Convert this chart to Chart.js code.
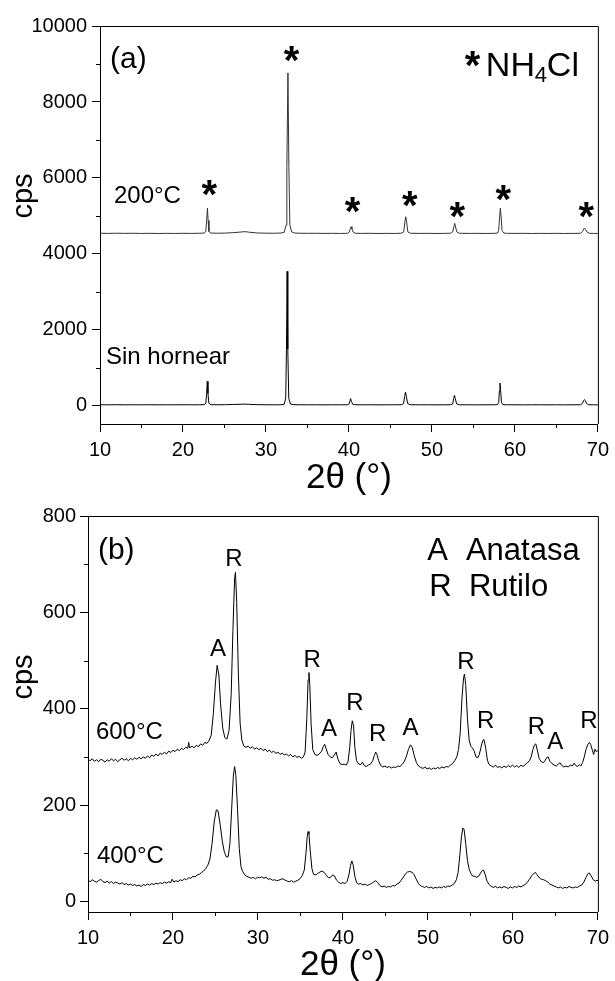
<!DOCTYPE html>
<html>
<head>
  <title>DRX NH4Cl y TiO2</title>
  <script src="https://cdn.jsdelivr.net/npm/chart.js@4.4.0/dist/chart.umd.min.js"></script>
  <style>
    body {
      margin: 0;
      padding: 0;
      background: #fff;
    }

    .panel {
      position: absolute;
      left: 0;
      width: 615px;
    }

    #panelA { top: 0; height: 500px; }
    #panelB { top: 500px; height: 481px; }
  </style>
</head>
<body>
  <div class="panel" id="panelA"><canvas id="grafikA" width="615" height="500"></canvas></div>
  <div class="panel" id="panelB"><canvas id="grafikB" width="615" height="481"></canvas></div>

  <script>
    // Difractogramas (a): NH4Cl sin hornear y a 200°C  -> [2θ, cps]
    const sinHornear = [
      [10,32],[11,30],[12,33],[13,29],[14,31],[15,30],[16,32],[17,29],[18,31],[19,30],[20,32],[21,30],[22,31],
      [22.55,33],[22.75,70],[22.85,330],[22.93,648],[23.01,330],[23.12,70],[23.35,34],[24,31],[25,33],[26,38],
      [27,45],[27.5,48],[28,42],[29,34],[30,31],[31,30],[31.8,32],[32.2,45],[32.38,200],[32.47,1500],[32.55,3543],
      [32.63,1500],[32.75,200],[32.95,50],[33.3,35],[34,31],[35,30],[36,31],[37,29],[38,31],[39,30],[39.8,31],
      [40.0,45],[40.12,130],[40.2,194],[40.3,120],[40.45,45],[40.7,32],[41.5,30],[42.5,31],[43.5,29],[44.5,30],
      [45.5,31],[46.3,32],[46.58,60],[46.72,250],[46.82,367],[46.92,250],[47.08,60],[47.4,32],[48.5,30],[49.5,31],
      [50.5,29],[51.5,30],[52.2,31],[52.5,55],[52.63,200],[52.72,281],[52.82,190],[52.98,55],[53.3,31],[54.5,30],
      [55.5,29],[56.5,30],[57.5,31],[57.9,35],[58.05,90],[58.13,400],[58.2,604],[58.28,400],[58.38,90],[58.55,36],
      [59,31],[60,30],[61,29],[62,30],[63,31],[64,29],[65,30],[66,29],[67,30],[67.9,31],[68.15,70],[68.3,150],
      [68.38,168],[68.48,140],[68.65,60],[68.9,32],[69.5,30],[70,29]
    ];

    const horneado200 = [
      [10,4546],[11,4541],[12,4547],[13,4542],[14,4545],[15,4540],[16,4544],[17,4539],[18,4543],[19,4540],[20,4544],
      [21,4541],[22,4545],[22.55,4550],[22.75,4590],[22.85,4880],[22.95,5207],[23.03,4880],[23.13,4590],[23.35,4552],
      [24,4546],[25,4549],[26,4560],[27,4578],[27.5,4588],[28,4572],[29,4552],[30,4547],[31,4545],[31.8,4550],
      [32.2,4570],[32.42,4760],[32.52,6300],[32.65,8766],[32.76,6300],[32.88,4760],[33.1,4580],[33.4,4552],[34,4546],
      [35,4543],[36,4545],[37,4541],[38,4544],[39,4540],[39.85,4545],[40.05,4580],[40.17,4670],[40.26,4716],
      [40.36,4660],[40.5,4580],[40.75,4546],[41.5,4541],[42.5,4544],[43.5,4539],[44.5,4542],[45.5,4540],[46.3,4546],
      [46.6,4580],[46.75,4850],[46.85,4979],[46.95,4850],[47.1,4580],[47.4,4546],[48.5,4541],[49.5,4543],[50.5,4539],
      [51.5,4542],[52.25,4546],[52.5,4580],[52.65,4720],[52.75,4803],[52.85,4710],[53.0,4580],[53.3,4545],[54.5,4541],
      [55.5,4543],[56.5,4540],[57.5,4543],[57.9,4550],[58.05,4620],[58.15,4950],[58.25,5207],[58.35,4950],[58.45,4620],
      [58.65,4552],[59,4544],[60,4541],[61,4543],[62,4539],[63,4542],[64,4540],[65,4543],[66,4539],[67,4541],
      [67.9,4545],[68.15,4590],[68.3,4660],[68.4,4682],[68.5,4650],[68.68,4580],[68.95,4545],[69.5,4541],[70,4540]
    ];

    // Difractogramas (b): TiO2 calcinado a 400°C y 600°C
    const horneado400 = [
      [10.0,44],[10.25,41],[10.5,45],[10.75,42],[11.0,40],[11.25,43],[11.5,46],[11.75,41],[12.0,39],[12.25,42],
      [12.5,38],[12.75,41],[13.0,37],[13.25,40],[13.5,38],[13.75,36],[14.0,39],[14.25,35],[14.5,37],[14.75,34],
      [15.0,36],[15.25,33],[15.5,35],[15.75,32],[16.0,34],[16.25,31],[16.5,35],[16.75,33],[17.0,36],[17.25,34],
      [17.5,37],[17.75,35],[18.0,38],[18.25,36],[18.5,39],[18.75,37],[19.0,40],[19.25,38],[19.5,41],[19.75,39],
      [19.9,46],[20.1,40],[20.35,43],[20.6,41],[20.85,45],[21.1,43],[21.35,47],[21.6,45],[21.85,49],[22.1,48],
      [22.35,52],[22.6,51],[22.85,55],[23.1,56],[23.35,60],[23.6,63],[23.85,68],[24.1,75],[24.35,88],[24.6,120],
      [24.85,165],[25.1,190],[25.3,188],[25.55,160],[25.8,125],[26.05,102],[26.3,92],[26.5,93],[26.7,120],[26.9,190],
      [27.1,260],[27.25,280],[27.4,262],[27.6,190],[27.8,110],[28.0,72],[28.2,62],[28.45,55],[28.7,52],[28.95,50],
      [29.2,48],[29.45,50],[29.7,47],[29.95,50],[30.2,49],[30.45,51],[30.7,48],[30.95,50],[31.2,46],[31.45,47],
      [31.7,44],[31.95,45],[32.2,43],[32.45,44],[32.7,46],[32.95,47],[33.2,44],[33.45,42],[33.7,41],[33.95,43],
      [34.2,40],[34.45,42],[34.7,44],[34.95,47],[35.2,53],[35.45,65],[35.65,100],[35.8,135],[35.9,145],[36.0,140],
      [36.15,105],[36.35,68],[36.55,56],[36.8,55],[37.05,58],[37.3,61],[37.55,63],[37.8,60],[38.05,54],[38.3,49],
      [38.55,50],[38.8,55],[39.0,53],[39.25,44],[39.5,40],[39.75,37],[40.0,39],[40.25,37],[40.5,42],[40.7,55],
      [40.9,75],[41.05,84],[41.2,76],[41.4,52],[41.6,39],[41.85,36],[42.1,37],[42.35,34],[42.6,36],[42.85,33],
      [43.1,35],[43.35,37],[43.6,40],[43.85,43],[44.1,39],[44.35,33],[44.6,30],[44.85,32],[45.1,29],[45.35,31],
      [45.6,30],[45.85,33],[46.1,32],[46.35,36],[46.6,38],[46.85,44],[47.1,50],[47.35,57],[47.6,61],[47.85,62],
      [48.1,61],[48.35,56],[48.6,47],[48.85,38],[49.1,33],[49.35,31],[49.6,29],[49.85,31],[50.1,28],[50.35,30],
      [50.6,27],[50.85,29],[51.1,28],[51.35,30],[51.6,28],[51.85,31],[52.1,29],[52.35,32],[52.6,31],[52.85,34],
      [53.1,37],[53.35,45],[53.55,60],[53.75,95],[53.95,135],[54.1,152],[54.25,150],[54.45,120],[54.65,85],[54.85,67],
      [55.05,58],[55.25,53],[55.5,52],[55.75,50],[56.0,53],[56.2,59],[56.4,64],[56.55,65],[56.75,55],[56.95,42],
      [57.2,35],[57.45,31],[57.7,29],[57.95,31],[58.2,28],[58.45,30],[58.7,28],[58.95,31],[59.2,29],[59.45,27],
      [59.7,30],[59.95,28],[60.2,31],[60.45,29],[60.7,32],[60.95,30],[61.2,33],[61.45,35],[61.7,40],[61.95,46],
      [62.2,53],[62.45,58],[62.65,60],[62.85,55],[63.1,49],[63.35,46],[63.6,45],[63.85,43],[64.1,40],[64.35,36],
      [64.6,34],[64.85,32],[65.1,30],[65.35,28],[65.6,30],[65.85,27],[66.1,29],[66.35,28],[66.6,31],[66.85,29],
      [67.1,28],[67.35,30],[67.6,29],[67.85,32],[68.1,34],[68.35,40],[68.6,50],[68.85,58],[69.0,59],[69.2,53],
      [69.45,45],[69.7,42],[69.9,44],[70.0,43]
    ];

    const horneado600 = [
      [10.0,295],[10.25,292],[10.5,296],[10.75,291],[11.0,294],[11.25,290],[11.5,295],[11.75,293],[12.0,289],
      [12.25,294],[12.5,291],[12.75,296],[13.0,292],[13.25,295],[13.5,290],[13.75,294],[14.0,297],[14.25,293],
      [14.5,296],[14.75,292],[15.0,297],[15.25,294],[15.5,298],[15.75,295],[16.0,299],[16.25,296],[16.5,300],
      [16.75,297],[17.0,302],[17.25,298],[17.5,304],[17.75,301],[18.0,306],[18.25,302],[18.5,308],[18.75,305],
      [19.0,310],[19.25,306],[19.5,312],[19.75,309],[20.0,314],[20.25,311],[20.5,316],[20.75,313],[21.0,318],
      [21.25,315],[21.5,320],[21.75,318],[21.85,330],[21.95,319],[22.25,322],[22.5,319],[22.75,324],[23.0,321],
      [23.25,327],[23.5,324],[23.75,330],[24.0,328],[24.25,334],[24.5,345],[24.75,390],[25.0,455],[25.2,490],
      [25.4,470],[25.6,410],[25.85,360],[26.1,340],[26.35,337],[26.6,355],[26.85,430],[27.05,560],[27.25,670],
      [27.35,683],[27.5,620],[27.7,470],[27.9,370],[28.1,335],[28.35,322],[28.6,320],[28.85,322],[29.1,318],
      [29.35,321],[29.6,316],[29.85,319],[30.1,315],[30.35,318],[30.6,313],[30.85,316],[31.1,311],[31.35,314],
      [31.6,309],[31.85,312],[32.1,307],[32.35,310],[32.6,305],[32.85,308],[33.1,304],[33.35,306],[33.6,302],
      [33.85,305],[34.1,300],[34.35,303],[34.6,299],[34.85,301],[35.1,297],[35.35,300],[35.55,310],[35.75,380],
      [35.9,460],[36.0,475],[36.1,450],[36.25,370],[36.45,315],[36.7,305],[36.95,303],[37.2,306],[37.5,312],
      [37.7,322],[37.85,326],[38.0,318],[38.25,305],[38.5,300],[38.75,298],[39.0,304],[39.2,310],[39.4,296],
      [39.65,286],[39.9,284],[40.15,285],[40.4,283],[40.6,290],[40.8,320],[40.95,355],[41.1,375],[41.25,365],
      [41.4,320],[41.6,292],[41.85,285],[42.1,284],[42.3,289],[42.5,282],[42.75,280],[43.0,283],[43.25,285],
      [43.5,292],[43.7,303],[43.85,310],[44.0,305],[44.2,292],[44.45,282],[44.7,279],[44.95,281],[45.2,278],
      [45.45,280],[45.7,277],[45.95,279],[46.2,278],[46.45,281],[46.7,280],[46.95,284],[47.2,290],[47.45,300],
      [47.7,315],[47.95,325],[48.15,320],[48.4,302],[48.65,288],[48.9,281],[49.15,278],[49.4,276],[49.65,279],
      [49.9,275],[50.15,277],[50.4,274],[50.65,277],[50.9,275],[51.15,278],[51.4,276],[51.65,279],[51.9,277],
      [52.15,280],[52.4,279],[52.65,283],[52.9,286],[53.15,292],[53.4,300],[53.6,315],[53.8,350],[54.0,420],
      [54.2,465],[54.3,472],[54.45,450],[54.65,380],[54.85,335],[55.05,322],[55.25,318],[55.45,312],[55.65,300],
      [55.85,298],[56.05,305],[56.25,320],[56.45,334],[56.6,336],[56.8,318],[57.0,293],[57.2,284],[57.45,281],
      [57.7,279],[57.95,283],[58.2,278],[58.45,280],[58.7,277],[58.95,281],[59.2,278],[59.45,282],[59.7,279],
      [59.95,283],[60.2,279],[60.45,282],[60.7,278],[60.95,283],[61.2,280],[61.45,284],[61.7,288],[61.95,292],
      [62.15,300],[62.35,315],[62.55,325],[62.7,327],[62.9,312],[63.1,296],[63.35,290],[63.6,288],[63.8,293],
      [64.0,299],[64.15,300],[64.35,291],[64.6,286],[64.85,283],[65.1,281],[65.35,285],[65.55,288],[65.75,282],
      [66.0,279],[66.25,281],[66.5,279],[66.75,283],[67.0,281],[67.2,287],[67.4,282],[67.6,280],[67.8,284],
      [68.0,281],[68.2,288],[68.4,300],[68.6,315],[68.8,325],[69.0,330],[69.15,326],[69.35,314],[69.5,305],
      [69.65,316],[69.8,311],[70.0,313]
    ];

    // Marcas de NH4Cl (*) sobre el patrón de 200°C
    const marcasNH4Cl = [[23.17,5740],[33.08,9257],[40.42,5294],[47.33,5451],[53.06,5155],[58.6,5617],[68.6,5155]];

    // Fases del TiO2 (A = anatasa, R = rutilo) sobre el patrón de 600°C
    const fasesTiO2 = [
      ['A',25.29,523],['R',27.16,710],['R',36.38,501],['A',38.36,357],['R',41.40,411],['R',44.08,347],
      ['A',47.94,359],['R',54.47,497],['R',56.81,373],['R',62.76,361],['A',64.98,330],['R',68.95,373]
    ];

    // Ticks (mayores con etiqueta y menores)
    const ticks2theta = [10, 15, 20, 25, 30, 35, 40, 45, 50, 55, 60, 65, 70];
    const ticksCpsA = [0, 1000, 2000, 3000, 4000, 5000, 6000, 7000, 8000, 9000, 10000];
    const ticksCpsB = [0, 100, 200, 300, 400, 500, 600, 700, 800];

    const FUENTE = "'Liberation Sans', Arial, sans-serif";

    function aPuntos(serie) {
      return serie.map(p => ({ x: p[0], y: p[1] }));
    }

    // Marco superior/derecho, ticks menores, títulos y rótulos
    function pluginDecorado(cfg) {
      return {
        id: 'decorado',
        afterDraw(chart) {
          const ctx = chart.ctx;
          const a = chart.chartArea;
          const sx = chart.scales.x;
          const sy = chart.scales.y;

          ctx.save();
          ctx.strokeStyle = '#000';
          ctx.lineWidth = 1;
          ctx.beginPath();
          ctx.moveTo(a.left, a.top + 0.5);
          ctx.lineTo(a.right + 0.5, a.top + 0.5);
          ctx.lineTo(a.right + 0.5, a.bottom);
          ctx.stroke();

          // ticks menores
          ctx.beginPath();
          sx.ticks.forEach(t => {
            if (t.value % 10 !== 0) {
              const px = Math.round(sx.getPixelForValue(t.value)) + 0.5;
              ctx.moveTo(px, a.bottom);
              ctx.lineTo(px, a.bottom + 4);
            }
          });
          sy.ticks.forEach(t => {
            if (t.value % cfg.pasoY !== 0) {
              const py = Math.round(sy.getPixelForValue(t.value)) + 0.5;
              ctx.moveTo(a.left, py);
              ctx.lineTo(a.left - 4, py);
            }
          });
          ctx.stroke();

          ctx.fillStyle = '#000';

          // títulos de ejes
          ctx.font = '35px ' + FUENTE;
          ctx.textAlign = 'center';
          ctx.textBaseline = 'middle';
          ctx.fillText('2θ (°)', (a.left + a.right) / 2, cfg.tituloX);

          ctx.save();
          ctx.translate(24, cfg.tituloY);
          ctx.rotate(-Math.PI / 2);
          ctx.font = '29px ' + FUENTE;
          ctx.fillText('cps', 0, 0);
          ctx.restore();

          // rótulos en coordenadas de los datos
          cfg.textos.forEach(t => {
            ctx.font = t.font;
            ctx.textAlign = t.align || 'center';
            ctx.textBaseline = t.base || 'middle';
            const px = sx.getPixelForValue(t.x);
            const py = sy.getPixelForValue(t.y) + (t.dy || 0);
            ctx.fillText(t.t, px, py);
          });
          ctx.restore();
        }
      };
    }

    function crearGrafico(id, series, opc) {
      const ctx = document.getElementById(id).getContext('2d');
      return new Chart(ctx, {
        type: 'line',
        data: {
          datasets: series.map(s => ({
            data: aPuntos(s.datos),
            borderColor: s.color,
            borderWidth: 1,
            pointRadius: 0,
            tension: 0,
            fill: false
          }))
        },
        options: {
          responsive: false,
          animation: false,
          layout: { padding: { top: opc.arriba, right: opc.derecha, left: 0, bottom: 0 } },
          plugins: { legend: { display: false }, tooltip: { enabled: false } },
          scales: {
            x: {
              type: 'linear',
              min: 10,
              max: 70,
              afterBuildTicks: s => { s.ticks = ticks2theta.map(v => ({ value: v })); },
              afterFit: s => { s.height = opc.altoX; },
              border: { color: '#000', width: 1 },
              grid: {
                drawOnChartArea: false,
                tickLength: 8,
                tickColor: c => (c.tick && c.tick.value % 10 === 0) ? '#000' : 'rgba(0,0,0,0)'
              },
              ticks: {
                autoSkip: false,
                maxRotation: 0,
                padding: 6,
                color: '#000',
                font: { family: FUENTE, size: 20 },
                callback: v => (v % 10 === 0 ? v : '')
              }
            },
            y: {
              type: 'linear',
              min: opc.minY,
              max: opc.maxY,
              afterBuildTicks: s => { s.ticks = opc.ticksY.map(v => ({ value: v })); },
              afterFit: s => { s.width = opc.anchoY; },
              border: { color: '#000', width: 1 },
              grid: {
                drawOnChartArea: false,
                tickLength: 8,
                tickColor: c => (c.tick && c.tick.value % opc.pasoY === 0) ? '#000' : 'rgba(0,0,0,0)'
              },
              ticks: {
                autoSkip: false,
                padding: opc.padY,
                color: '#000',
                font: { family: FUENTE, size: 20 },
                callback: v => (v % opc.pasoY === 0 ? v : '')
              }
            }
          }
        },
        plugins: [pluginDecorado(opc)]
      });
    }

    const asterisco = 'bold 40px ' + FUENTE;
    const rotulosA = [
      { t: '(a)', x: 11.2, y: 9121, font: '30px ' + FUENTE, align: 'left' },
      { t: '200°C', x: 11.68, y: 5504, font: '24px ' + FUENTE, align: 'left' },
      { t: 'Sin hornear', x: 10.72, y: 1278, font: '24px ' + FUENTE, align: 'left' },
      { t: '*', x: 54.9, y: 9126, font: asterisco, dy: 9 },
      { t: 'NH', x: 56.5, y: 8680, font: '34px ' + FUENTE, align: 'left', base: 'alphabetic' },
      { t: '4', x: 62.4, y: 8530, font: '22px ' + FUENTE, align: 'left', base: 'alphabetic' },
      { t: 'Cl', x: 63.85, y: 8680, font: '34px ' + FUENTE, align: 'left', base: 'alphabetic' }
    ].concat(marcasNH4Cl.map(m => ({ t: '*', x: m[0], y: m[1], font: asterisco, dy: 9 })));

    const rotulosB = [
      { t: '(b)', x: 11.17, y: 727, font: '30px ' + FUENTE, align: 'left' },
      { t: '600°C', x: 10.93, y: 351, font: '24px ' + FUENTE, align: 'left' },
      { t: '400°C', x: 11.05, y: 94, font: '24px ' + FUENTE, align: 'left' },
      { t: 'A', x: 49.92, y: 727, font: '31px ' + FUENTE, align: 'left' },
      { t: 'Anatasa', x: 54.47, y: 727, font: '31px ' + FUENTE, align: 'left' },
      { t: 'R', x: 50.15, y: 651, font: '31px ' + FUENTE, align: 'left' },
      { t: 'Rutilo', x: 54.82, y: 651, font: '31px ' + FUENTE, align: 'left' }
    ].concat(fasesTiO2.map(f => ({ t: f[0], x: f[1], y: f[2], font: '24px ' + FUENTE })));

    crearGrafico('grafikA', [
      { datos: horneado200, color: '#333' },
      { datos: sinHornear, color: '#000' }
    ], {
      arriba: 26, derecha: 14, altoX: 76, anchoY: 100, padY: 5,
      minY: -475, maxY: 10000, pasoY: 2000, ticksY: ticksCpsA,
      tituloX: 478, tituloY: 196, textos: rotulosA
    });

    crearGrafico('grafikB', [
      { datos: horneado600, color: '#000' },
      { datos: horneado400, color: '#000' }
    ], {
      arriba: 11, derecha: 13, altoX: 69, anchoY: 88, padY: 4,
      minY: -22, maxY: 800, pasoY: 200, ticksY: ticksCpsB,
      tituloX: 465, tituloY: 177, textos: rotulosB
    });
  </script>
</body>
</html>
